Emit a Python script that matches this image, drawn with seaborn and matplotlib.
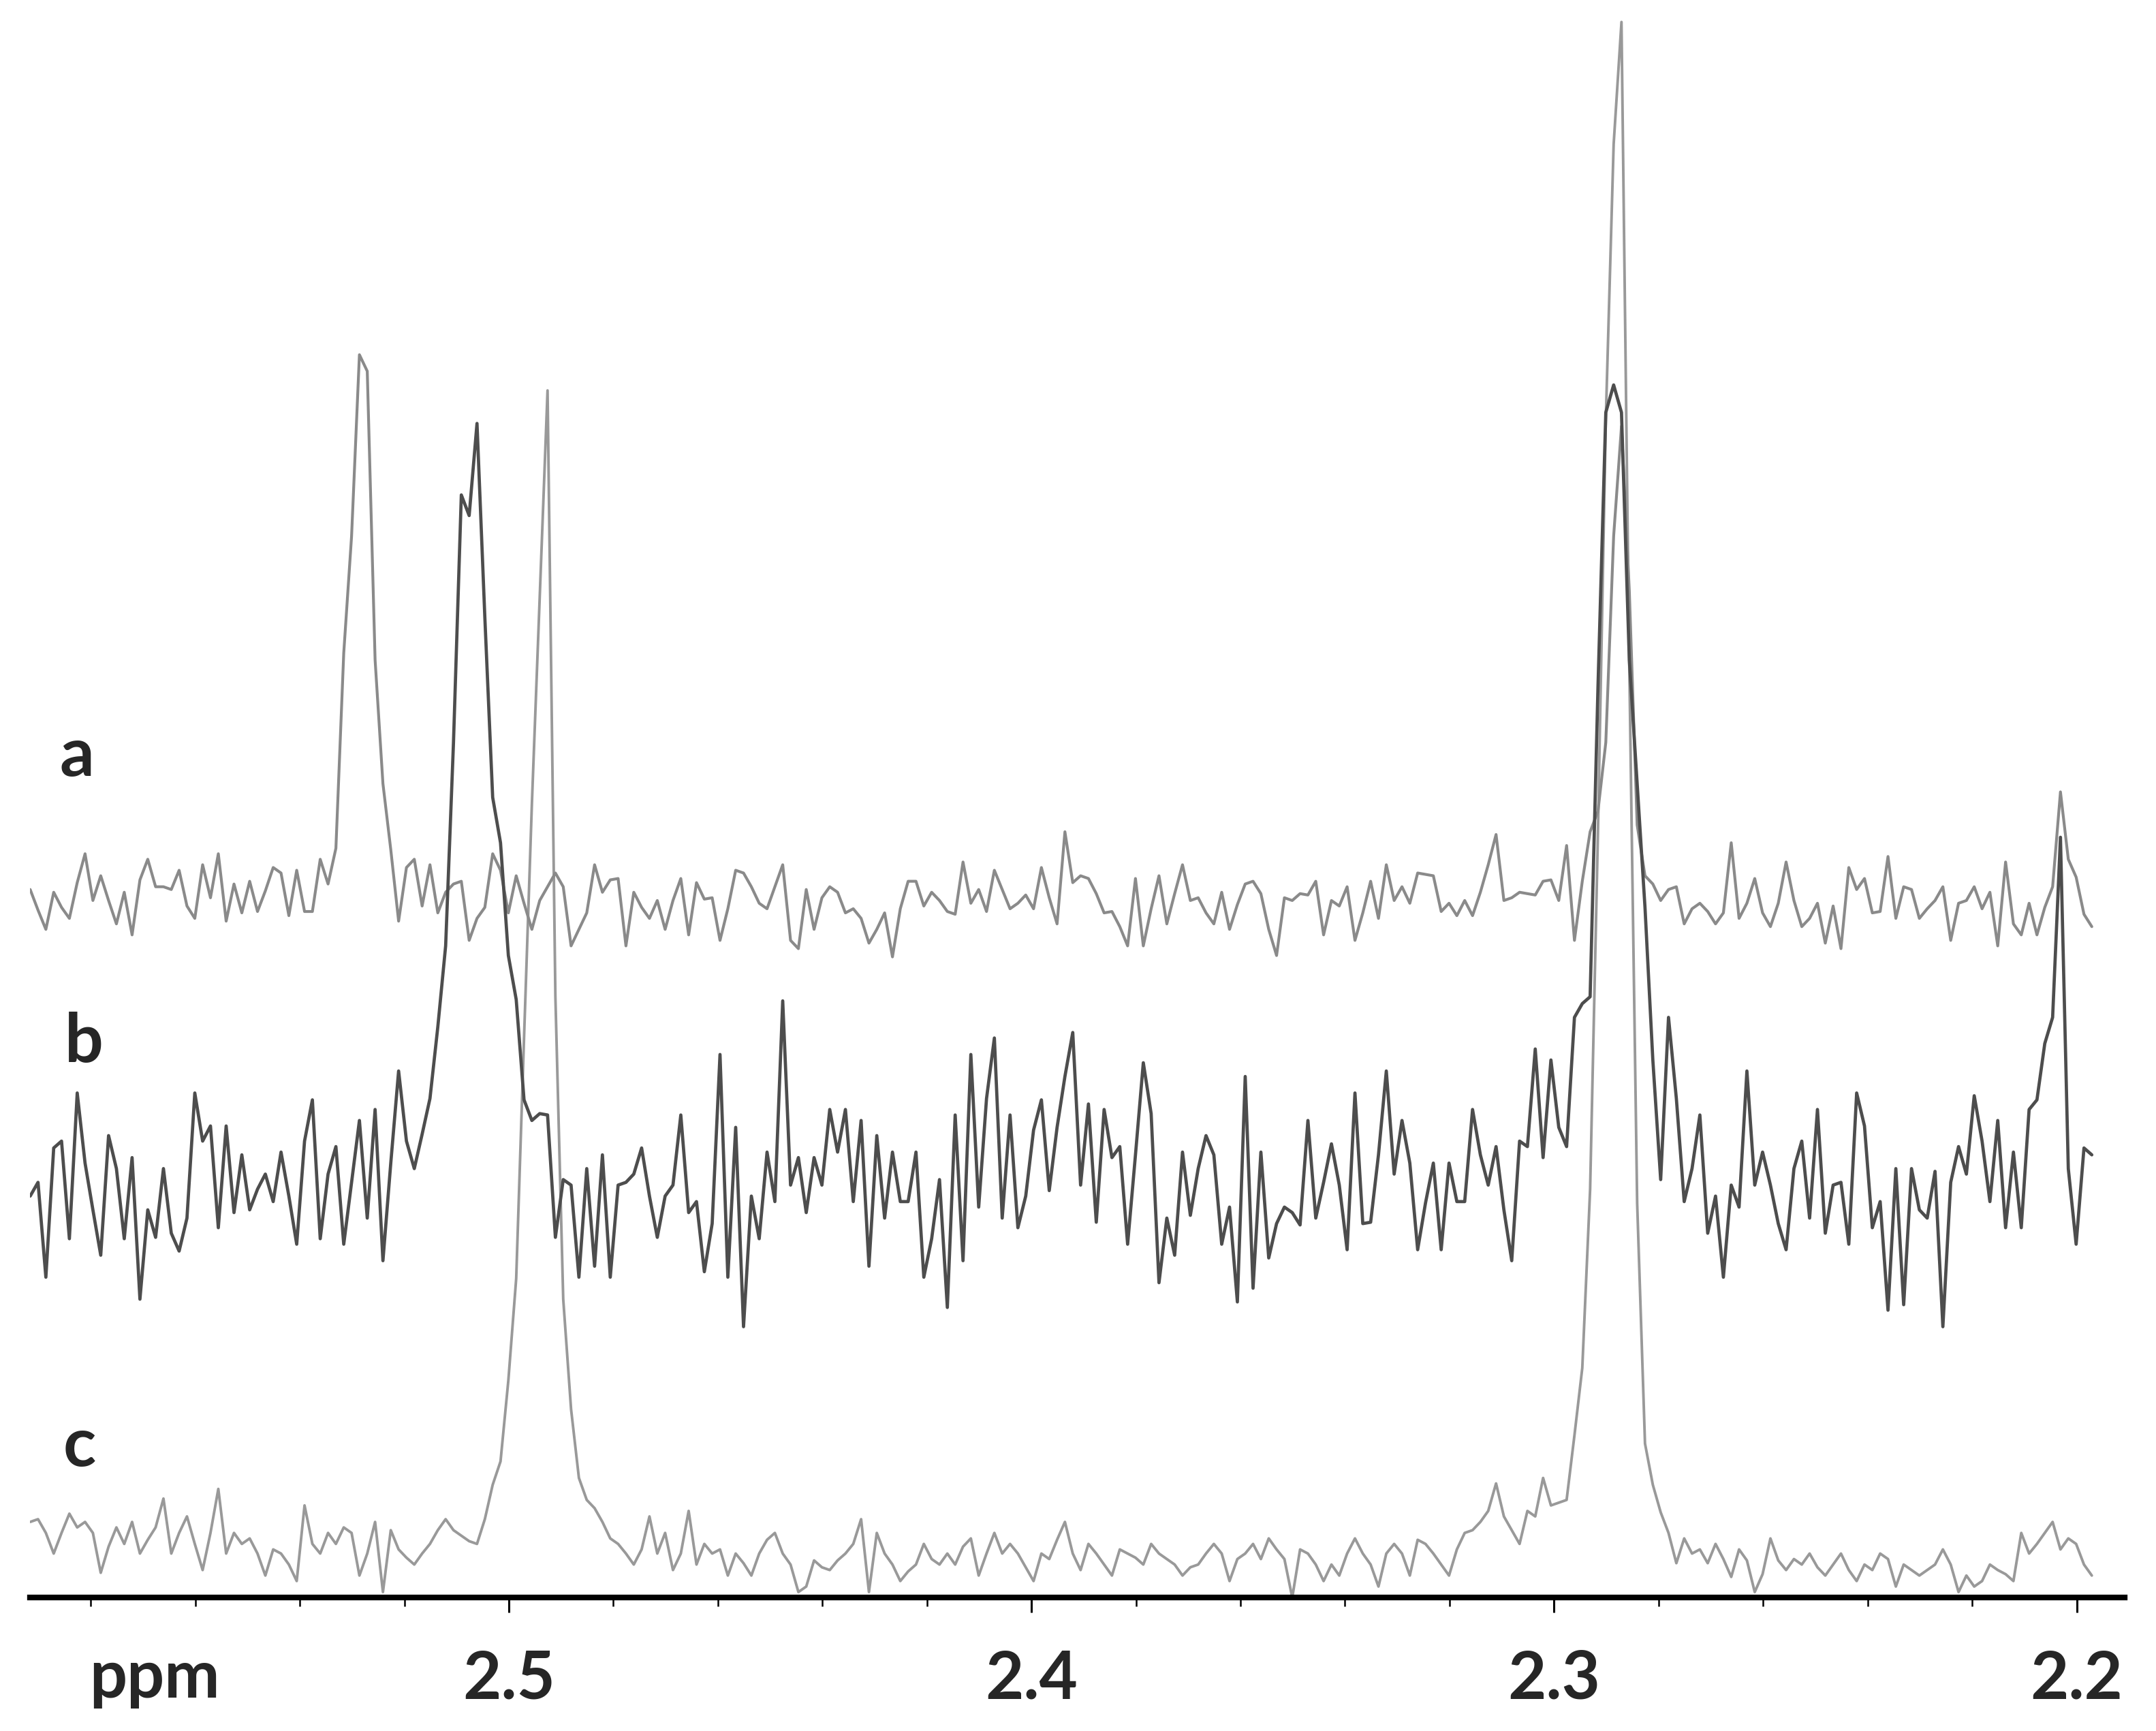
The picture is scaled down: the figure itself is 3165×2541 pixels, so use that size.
import numpy as np
import pandas as pd
import matplotlib
matplotlib.use("Agg")
import matplotlib.pyplot as plt
from matplotlib.ticker import MultipleLocator
import seaborn as sns

# ----------------------------------------------------------------------------------
# Data: 1H NMR traces (intensity, arbitrary units)
# spectrum grid: first point and spacing in ppm
PPM_START = 2.5916
PPM_STEP = 0.0015

trace_a = [
    3, -12, -26, 1, -10, -18, 8, 29, -5, 13,
    -5, -22, 1, -30, 10, 25, 5, 5, 3, 17,
    -9, -18, 21, -3, 29, -20, 7, -14, 9, -13,
    2, 19, 15, -16, 17, -13, -13, 25, 7, 33,
    175, 260, 392, 380, 170, 80, 32, -20, 19, 25,
    -9, 21, -14, 1, 7, 9, -34, -18, -10, 29,
    17, -14, 13, -7, -26, -5, 5, 15, 5, -38,
    -26, -14, 21, 1, 10, 11, -38, 1, -10, -18,
    -5, -26, -5, 11, -30, 8, -4, -3, -34, -11,
    17, 15, 5, -7, -11, 5, 21, -34, -40, 3,
    -26, -3, 5, 1, -14, -11, -18, -36, -26, -14,
    -46, -11, 9, 9, -9, 1, -5, -13, -15, 23,
    -7, 3, -13, 17, 3, -11, -7, -1, -11, 19,
    -3, -22, 45, 8, 13, 11, 0, -14, -13, -24,
    -38, 11, -38, -11, 13, -22, 0, 21, -5, -3,
    -14, -22, 1, -26, -8, 7, 9, 0, -26, -45,
    -3, -5, 0, -1, 9, -30, -5, -9, 5, -34,
    -14, 9, -18, 21, -5, 5, -7, 15, 14, 13,
    -13, -7, -16, -5, -16, 1, 21, 43, -5, -3,
    1, 0, -1, 9, 10, -5, 35, -34, 9, 45,
    60, 110, 260, 340, 220, 50, 13, 7, -5, 3,
    5, -22, -11, -7, -13, -22, -14, 37, -18, -7,
    11, -14, -24, -7, 23, -5, -24, -18, -7, -36,
    -9, -40, 19, 3, 11, -14, -13, 27, -18, 5,
    3, -18, -11, -5, 5, -34, -7, -5, 5, -11,
    1, -38, 23, -22, -30, -7, -30, -10, 5, 74,
    25, 12, -15, -24,
]

trace_b = [
    -10, 0, -69, 25, 30, -41, 65, 14, -20, -53,
    34, 10, -41, 18, -85, -20, -40, 10, -37, -50,
    -26, 65, 30, 41, -33, 41, -22, 20, -20, -5,
    6, -14, 22, -10, -45, 30, 60, -41, 6, 26,
    -45, 0, 45, -26, 53, -57, 14, 81, 30, 10,
    35, 61, 113, 172, 320, 500, 485, 552, 411, 280,
    247, 165, 133, 60, 45, 50, 49, -40, 2, -2,
    -69, 10, -61, 20, -69, -2, 0, 6, 25, -10,
    -40, -10, -2, 49, -22, -14, -65, -30, 93, -69,
    40, -105, -10, -41, 22, -14, 132, -2, 18, -22,
    18, -2, 53, 22, 53, -14, 45, -61, 34, -26,
    22, -14, -14, 22, -69, -41, 2, -91, 49, -57,
    93, -18, 61, 105, -26, 49, -33, -10, 38, 60,
    -6, 40, 77, 109, -2, 57, -29, 53, 18, 26,
    -45, 20, 87, 50, -73, -26, -53, 22, -24, 10,
    34, 20, -45, -18, -87, 77, -77, 22, -55, -30,
    -18, -22, -31, 45, -26, 0, 28, -2, -49, 65,
    -30, -29, 20, 81, 6, 45, 14, -49, -15, 14,
    -49, 14, -14, -14, 53, 20, -2, 26, -20, -57,
    30, 26, 97, 18, 89, 40, 26, 120, 130, 135,
    360, 560, 580, 560, 380, 290, 200, 89, 2, 120,
    61, -14, 10, 49, -37, -10, -69, -2, -18, 81,
    -2, 22, -2, -30, -49, 10, 30, -26, 53, -37,
    -2, 0, -45, 65, 41, -33, -14, -93, 10, -89,
    10, -20, -26, 8, -105, 0, 26, 6, 63, 30,
    -14, 45, -33, 22, -33, 53, 60, 101, 120, 251,
    10, -45, 25, 20,
]

trace_c = [
    18, 20, 10, -5, 10, 24, 14, 18, 10, -19,
    0, 14, 2, 18, -5, 5, 14, 35, -5, 10,
    22, 2, -17, 10, 42, -5, 10, 2, 6, -5,
    -21, -2, -5, -13, -25, 30, 2, -5, 10, 2,
    14, 10, -21, -5, 18, -33, 12, -2, -8, -13,
    -5, 2, 12, 20, 12, 8, 4, 2, 20, 45,
    62, 121, 195, 370, 540, 690, 841, 400, 180, 100,
    50, 34, 28, 18, 6, 2, -5, -13, -2, 22,
    -5, 10, -17, -5, 26, -13, 2, -5, -2, -21,
    -5, -12, -21, -5, 5, 10, -5, -13, -33, -29,
    -10, -15, -17, -10, -5, 2, 20, -33, 10, -5,
    -13, -25, -18, -13, 2, -9, -13, -5, -13, 0,
    6, -21, -5, 10, -5, 2, -5, -15, -25, -5,
    -9, 5, 18, -5, -17, 2, -5, -13, -21, -2,
    -5, -8, -13, 2, -5, -9, -13, -21, -15, -13,
    -5, 2, -5, -25, -9, -5, 2, -9, 6, -2,
    -9, -37, -2, -5, -13, -25, -13, -21, -5, 6,
    -5, -13, -29, -5, 2, -5, -21, 5, 2, -5,
    -13, -21, -2, 10, 12, 18, 26, 46, 22, 12,
    2, 26, 22, 50, 30, 32, 34, 81, 130, 260,
    520, 820, 1020, 1109, 640, 250, 75, 45, 25, 10,
    -12, 6, -5, -2, -12, 2, -9, -22, -2, -10,
    -33, -20, 6, -10, -17, -9, -13, -5, -15, -21,
    -13, -5, -17, -25, -13, -17, -5, -9, -29, -13,
    -17, -21, -17, -13, -2, -13, -33, -21, -29, -25,
    -13, -17, -20, -25, 10, -5, 2, 10, 18, -2,
    6, 2, -13, -21,
]

trace_names = ["a", "b", "c"]
tick_values = [2.5, 2.4, 2.3, 2.2]
tick_labels = ["2.5", "2.4", "2.3", "2.2"]

# ----------------------------------------------------------------------------------
# Plot
sns.set_theme(style="white")
plt.rcParams["font.family"] = ["Lato", "DejaVu Sans"]

traces = {"a": trace_a, "b": trace_b, "c": trace_c}
offsets = {"a": 512, "b": 302, "c": 37}
colors = {"a": "#8a8a8a", "b": "#4d4d4d", "c": "#999999"}
widths = {"a": 3.0, "b": 3.4, "c": 2.8}

frames = []
for name in trace_names:
    vals = np.asarray(traces[name], dtype=float)
    ppm = PPM_START - PPM_STEP * np.arange(len(vals))
    frames.append(pd.DataFrame({"ppm": ppm, "intensity": vals + offsets[name], "trace": name}))
df = pd.concat(frames, ignore_index=True)

fig = plt.figure(figsize=(31.65, 25.41), dpi=100)
ax = fig.add_axes([0.014, 0.0771, 0.9715, 0.9229])

for name in ["c", "a", "b"]:
    sns.lineplot(
        data=df[df["trace"] == name],
        x="ppm",
        y="intensity",
        color=colors[name],
        linewidth=widths[name],
        estimator=None,
        sort=False,
        ax=ax,
    )

ax.set_xlim(2.5916, 2.1908)
ax.set_ylim(0, 1162)
for side in ["left", "top", "right"]:
    ax.spines[side].set_visible(False)
ax.spines["bottom"].set_linewidth(6)
ax.spines["bottom"].set_color("black")
ax.set_yticks([])
ax.set_xlabel("")
ax.set_ylabel("")

ax.set_xticks(tick_values)
ax.set_xticklabels(tick_labels, fontsize=70, fontweight="bold")
ax.xaxis.set_minor_locator(MultipleLocator(0.02))
ax.tick_params(axis="x", which="major", direction="out", length=16, width=2.2,
               color="black", pad=38, bottom=True)
ax.tick_params(axis="x", which="minor", direction="out", length=9, width=1.8,
               color="black", bottom=True)

fig.text(0.0414, 0.0193, "ppm", fontsize=70, fontweight="bold", ha="left", va="baseline")
fig.text(0.0278, 0.5517, "a", fontsize=72, fontweight="bold", ha="left", va="baseline")
fig.text(0.0300, 0.3865, "b", fontsize=72, fontweight="bold", ha="left", va="baseline")
fig.text(0.0294, 0.1531, "c", fontsize=72, fontweight="bold", ha="left", va="baseline")

fig.savefig("out.png", dpi=100)
